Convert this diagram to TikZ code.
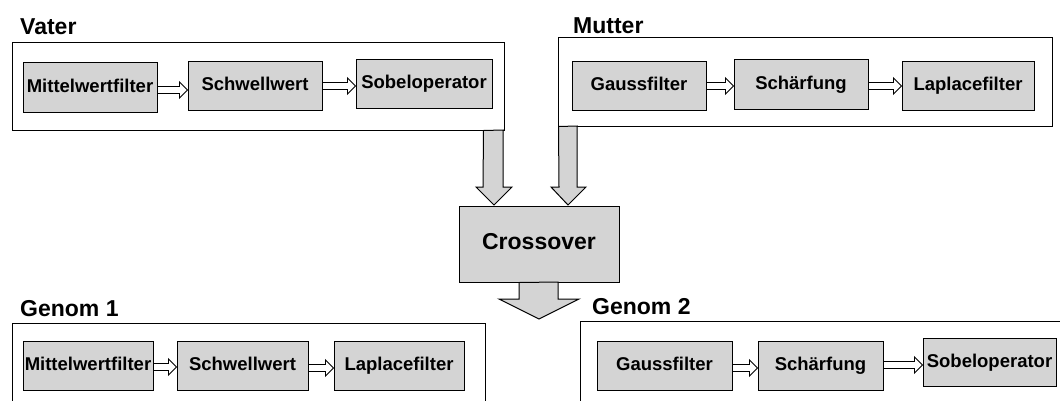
\documentclass[tikz,border=0pt]{standalone}
\usepackage{fontspec}
\setmainfont{Liberation Sans}
\usetikzlibrary{arrows.meta,calc}
\definecolor{boxgray}{RGB}{212,212,212}
\tikzset{
  stage/.style={draw=black, fill=boxgray, line width=1pt, inner sep=0pt, minimum height=49pt,
    text height=13.5pt, text depth=3.5pt,
    font=\fontsize{18.5}{20}\selectfont\bfseries},
  group/.style={draw=black, line width=1pt, fill=white, inner sep=0pt},
  glabel/.style={anchor=west, inner sep=0pt, font=\fontsize{23}{25}\selectfont\bfseries},
  flowshape/.style={draw=black, fill=white, line width=0.9pt, line join=miter},
  blockarrow/.style={draw=black, fill=boxgray, line width=1pt, line join=miter},
}
\newcommand\flowarr[3]{%
  \coordinate (fa) at (#1.east |- 0,#3);
  \coordinate (fb) at (#2.west |- 0,#3);
  \draw[flowshape] ($(fa)+(0,-3.5)$) -- ($(fb)+(-8,-3.5)$) -- ($(fb)+(-8,-8)$) -- (fb)
    -- ($(fb)+(-8,8)$) -- ($(fb)+(-8,3.5)$) -- ($(fa)+(0,3.5)$) -- cycle;}
\begin{document}
\begin{tikzpicture}[x=1pt,y=-1pt]
\useasboundingbox (0,0) rectangle (1060,400);
\clip (0,0) rectangle (1060,400);
% group frames
\node[group, minimum width=492pt, minimum height=88pt] (vater) at (258,86) {};
\node[group, minimum width=494pt, minimum height=89pt] (mutter) at (805,81.5) {};
\node[group, minimum width=473pt, minimum height=97pt] (genom1) at (248.5,371.5) {};
\node[group, minimum width=500pt, minimum height=99pt] (genom2) at (830,370.5) {};
% labels
\node[glabel] (lv) at (20,27) {Vater};
\node[glabel] (lm) at (573,26) {Mutter};
\node[glabel] (lg1) at (20,309) {Genom 1};
\node[glabel] (lg2) at (592,307) {Genom 2};
% Vater
\node[stage, minimum width=134pt, minimum height=50pt] (v1) at (90,87) {Mittelwertfilter};
\node[stage, minimum width=134pt] (v2) at (255,85.5) {Schwellwert};
\node[stage, minimum width=136pt] (v3) at (424,83.5) {Sobeloperator};
% Mutter
\node[stage, minimum width=134pt] (m1) at (639,85.5) {Gaussfilter};
\node[stage, minimum width=134pt, minimum height=50pt] (m2) at (801,84) {Schärfung};
\node[stage, minimum width=132pt] (m3) at (968,85.5) {Laplacefilter};
% Genom 1
\node[stage, minimum width=130pt] (g11) at (88,365.5) {Mittelwertfilter};
\node[stage, minimum width=131pt] (g12) at (242.5,365.5) {Schwellwert};
\node[stage, minimum width=130pt] (g13) at (399,365.5) {Laplacefilter};
% Genom 2
\node[stage, minimum width=135pt] (g21) at (664.5,365.5) {Gaussfilter};
\node[stage, minimum width=125pt] (g22) at (820.5,365.5) {Schärfung};
\node[stage, minimum width=133pt, minimum height=48pt] (g23) at (989.5,362) {Sobeloperator};
% flow arrows
\flowarr{v1}{v2}{90}
\flowarr{v2}{v3}{86}
\flowarr{m1}{m2}{86}
\flowarr{m2}{m3}{86}
\flowarr{g11}{g12}{367}
\flowarr{g12}{g13}{368}
\flowarr{g21}{g22}{368}
\flowarr{g22}{g23}{365}
% crossover
\node[stage, minimum width=160pt, minimum height=76pt, font=\fontsize{23}{25}\selectfont\bfseries] (cross) at (539,244) {Crossover};
% block arrows (parents -> crossover -> children)
\draw[blockarrow] ($(vater.south east)+(-21,0)$) -- (483,187) -- (476,187) -- (494,205) -- (512,187) -- (503,187) -- (503,130) -- cycle;
\draw[blockarrow] ($(mutter.south west)+(1,0)$) -- (559,187) -- (551,187) -- (568,205) -- (586,187) -- (577,187) -- (577,126) -- cycle;
\draw[blockarrow] ($(cross.south)+(-20,0)$) -- (519,299) -- (499,299) -- (539,319) -- (579,299) -- (558,299) -- (558,282) -- cycle;
\end{tikzpicture}
\end{document}
